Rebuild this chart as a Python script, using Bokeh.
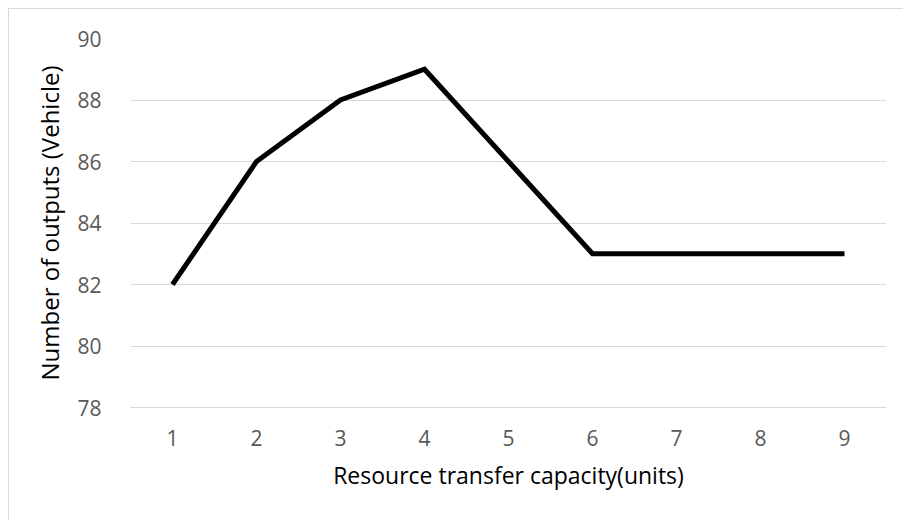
from bokeh.plotting import figure
from bokeh.models import FactorRange, Range1d, FixedTicker, ColumnDataSource
from bokeh.embed import file_html
from bokeh.resources import INLINE

categories = ["1", "2", "3", "4", "5", "6", "7", "8", "9"]
outputs = [82, 86, 88, 89, 86, 83, 83, 83, 83]
y_ticks = [78, 80, 82, 84, 86, 88, 90]

src = ColumnDataSource(dict(x=categories, y=outputs))

p = figure(frame_width=756, frame_height=369, output_backend="svg", toolbar_location=None,
           x_range=FactorRange(*categories), y_range=Range1d(78, 90),
           min_border_left=121, min_border_right=17, min_border_top=29,
           min_border_bottom=113)
p.styles = {"border-left": "1px solid #d9d9d9", "border-top": "1px solid #d9d9d9",
            "margin-left": "8px", "margin-top": "8px"}
p.outline_line_color = None
p.background_fill_color = "white"

p.line("x", "y", source=src, line_color="black", line_width=5, line_join="miter")

FONT = "Open Sans"
p.yaxis.ticker = FixedTicker(ticks=y_ticks)
p.yaxis.axis_line_color = None
p.yaxis.major_tick_line_color = None
p.yaxis.minor_tick_line_color = None
p.yaxis.major_label_text_font = FONT
p.yaxis.major_label_text_font_size = "21px"
p.yaxis.major_label_text_color = "#595959"
p.yaxis.major_label_standoff = 23
p.yaxis.axis_label = "Number of outputs (Vehicle)"
p.yaxis.axis_label_text_font = FONT
p.yaxis.axis_label_text_font_size = "24px"
p.yaxis.axis_label_text_font_style = "normal"
p.yaxis.axis_label_text_color = "black"
p.yaxis.axis_label_standoff = 8

p.xaxis.axis_line_color = "#d9d9d9"
p.xaxis.major_tick_line_color = None
p.xaxis.minor_tick_line_color = None
p.xaxis.major_label_text_font = FONT
p.xaxis.major_label_text_font_size = "21px"
p.xaxis.major_label_text_color = "#595959"
p.xaxis.major_label_standoff = 16
p.xaxis.axis_label = "Resource transfer capacity(units)"
p.xaxis.axis_label_text_font = FONT
p.xaxis.axis_label_text_font_size = "23px"
p.xaxis.axis_label_text_font_style = "normal"
p.xaxis.axis_label_text_color = "black"
p.xaxis.axis_label_standoff = 10

p.xgrid.grid_line_color = None
p.ygrid.grid_line_color = "#d9d9d9"
p.ygrid.grid_line_width = 1

open("out.html", "w").write(file_html(p, INLINE))
